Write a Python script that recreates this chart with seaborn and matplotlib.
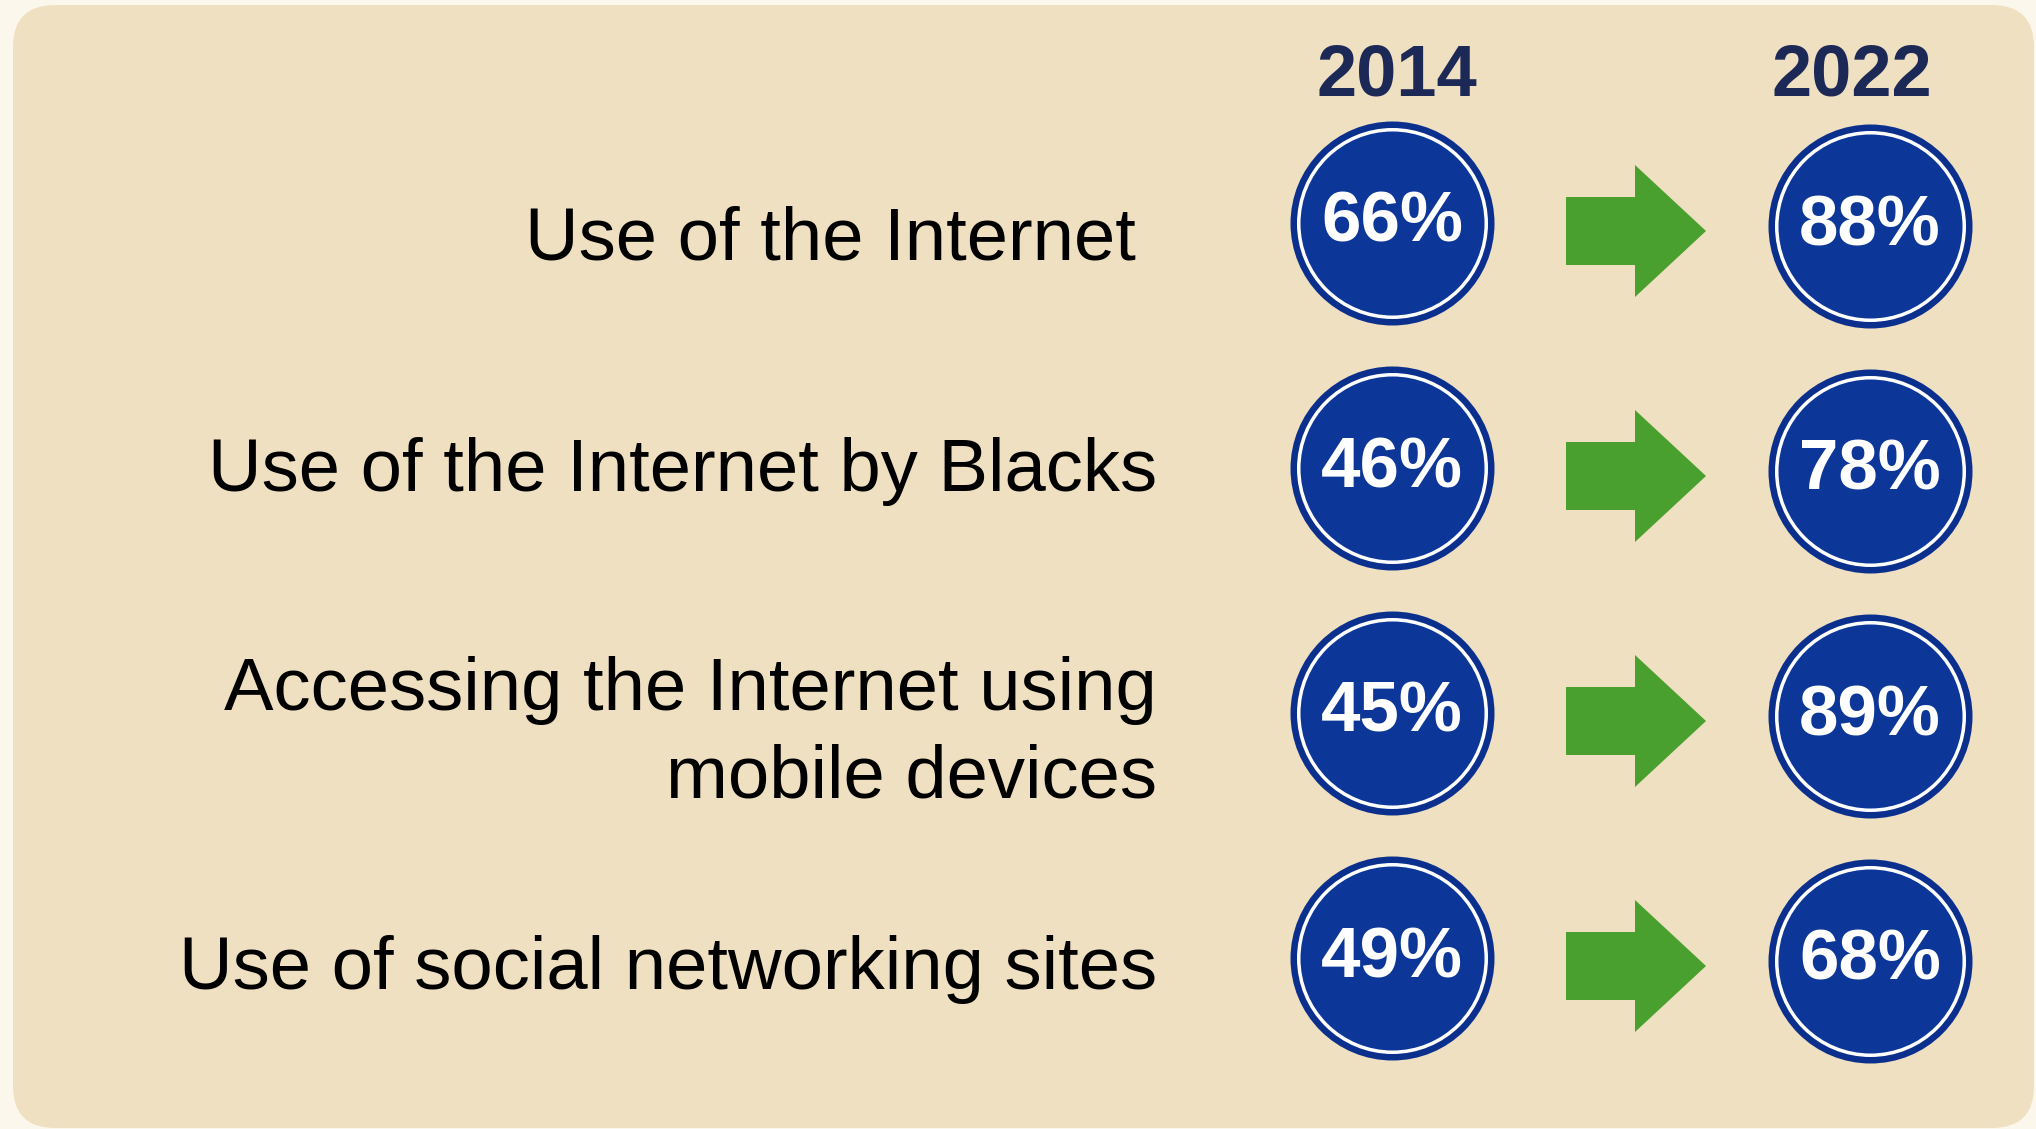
import matplotlib
matplotlib.use("Agg")
import matplotlib.pyplot as plt
from matplotlib.patches import FancyBboxPatch, Polygon
import seaborn as sns
import pandas as pd

# --- data -------------------------------------------------------------
categories = [
    "Use of the Internet ",
    "Use of the Internet by Blacks",
    "Accessing the Internet using\nmobile devices",
    "Use of social networking sites",
]
years = ["2014", "2022"]
pct_2014 = [66, 46, 45, 49]
pct_2022 = [88, 78, 89, 68]

# --- layout (pixel canvas) -------------------------------------------
W, H = 2036, 1129
col_x = {"2014": 1392, "2022": 1870}
col_dy = {"2014": 0, "2022": 3}
row_y0, row_step = 223, 245
label_right = 1157
label_baseline = [259, 491, 797, 989]   # baseline of the last line
header_y = 95

bg_outer = "#FBF7EC"
bg_panel = "#EFE0C2"
ring_blue = "#0B2F8C"
disc_blue = "#0C3697"
arrow_green = "#4AA02F"
header_navy = "#1C2855"

sns.set_theme(style="white")
plt.rcParams["font.family"] = ["Liberation Sans", "DejaVu Sans"]

rows = []
for i, cat in enumerate(categories):
    for yr, vals in zip(years, [pct_2014, pct_2022]):
        rows.append({"category": cat, "year": yr, "value": vals[i],
                     "px": col_x[yr], "py": row_y0 + row_step * i + col_dy[yr]})
df = pd.DataFrame(rows)

fig = plt.figure(figsize=(W / 100, H / 100), dpi=100)
fig.patch.set_facecolor(bg_outer)
ax = fig.add_axes([0, 0, 1, 1])
ax.set_xlim(0, W)
ax.set_ylim(H, 0)
ax.set_facecolor(bg_outer)

# rounded panel behind everything
panel = FancyBboxPatch((13, 5), W - 13 - 2, H - 5 - 1,
                       boxstyle="round,pad=0,rounding_size=42",
                       facecolor=bg_panel, edgecolor="none", zorder=0)
ax.add_patch(panel)

# badge discs: outer ring, thin white ring, inner fill (radius in px -> pt)
def area(radius_px):
    return (2 * radius_px * 0.72) ** 2

for r, c, z in [(102, ring_blue, 2), (95.5, "white", 3), (92, disc_blue, 4)]:
    sns.scatterplot(data=df, x="px", y="py", s=area(r), color=c,
                    linewidth=0, legend=False, ax=ax, zorder=z)

for _, row in df.iterrows():
    ax.text(row["px"], row["py"] + 19, f"{row['value']}%", color="white",
            fontsize=51, fontweight="bold", ha="center", va="baseline", zorder=5)

# green arrows between the two years
for i in range(len(categories)):
    cy = row_y0 + row_step * i + 8
    x0 = 1566
    pts = [(x0, cy - 34), (x0 + 69, cy - 34), (x0 + 69, cy - 66),
           (x0 + 140, cy), (x0 + 69, cy + 66), (x0 + 69, cy + 34),
           (x0, cy + 34)]
    ax.add_patch(Polygon(pts, closed=True, facecolor=arrow_green,
                         edgecolor="none", zorder=3))

# category labels
for cat, yb in zip(categories, label_baseline):
    ax.text(label_right, yb, cat, fontsize=53.5, color="black",
            ha="right", va="baseline", linespacing=1.33, zorder=5)

# year headers
for yr in years:
    ax.text(col_x[yr] + (5 if yr == "2014" else -18), header_y, yr,
            fontsize=52, fontweight="bold", color=header_navy,
            ha="center", va="baseline", zorder=5)

ax.set_xlim(0, W)
ax.set_ylim(H, 0)
ax.set_axis_off()
fig.savefig("out.png", dpi=100, facecolor=fig.get_facecolor())
